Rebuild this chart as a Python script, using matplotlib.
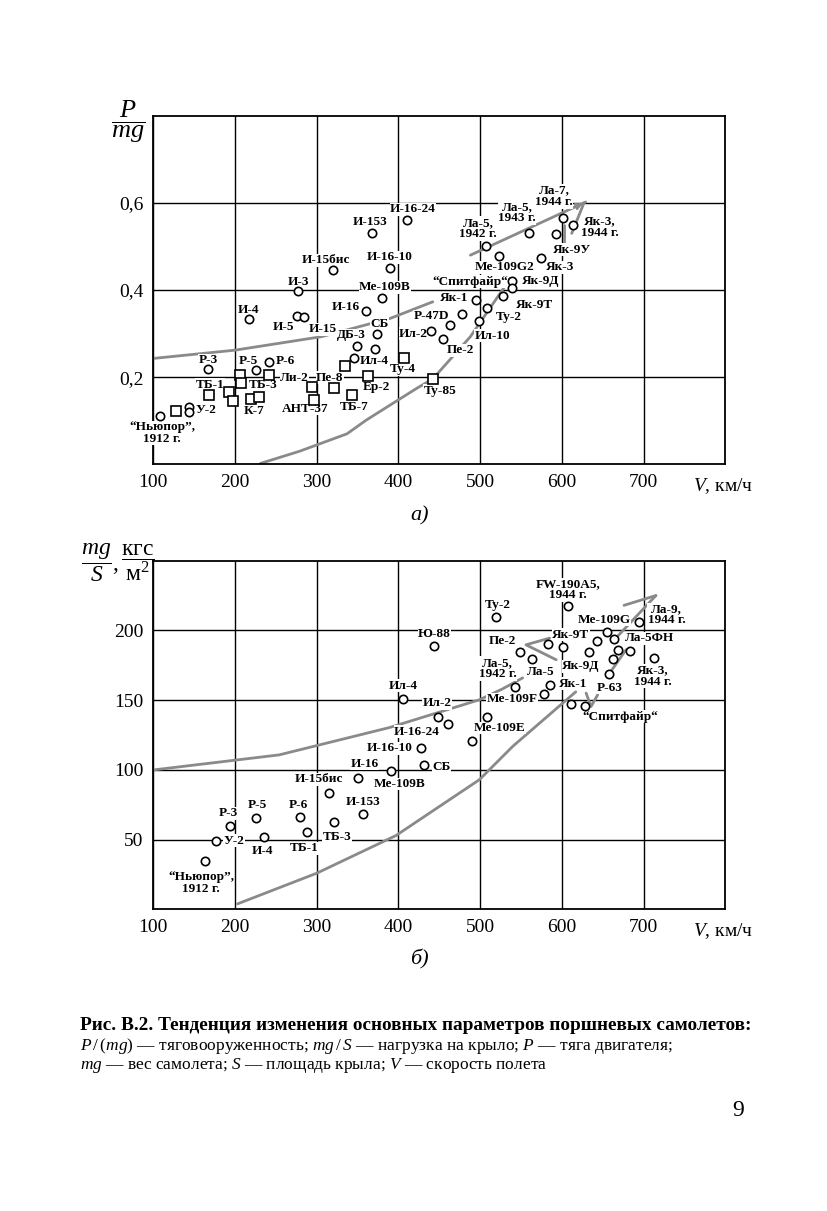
import numpy as np
import matplotlib
matplotlib.use("Agg")
import matplotlib.pyplot as plt

plt.rcParams['font.family'] = ['Liberation Serif', 'DejaVu Serif']
plt.rcParams['mathtext.fontset'] = 'custom'
plt.rcParams['mathtext.rm'] = 'Liberation Serif'
plt.rcParams['mathtext.it'] = 'Liberation Serif:italic'
plt.rcParams['mathtext.bf'] = 'Liberation Serif:bold'

# ---- (a) thrust-to-weight P/(mg) vs speed V, km/h ----
top_circ_v = [108.6, 144, 144, 167, 225.3, 242, 217, 276, 284.8, 277.5, 320.3,
              367.3, 410.2, 389.7, 380.3, 360.3, 373.4, 349, 371.4, 345.6,
              478.2, 463.5, 439.5, 454.2, 498.7, 508, 494.6, 538.7, 538.7,
              527.7, 523.5, 574.2, 507.2, 560.2, 600.9, 613.1, 592.3]
top_circ_pw = [0.111, 0.132, 0.121, 0.219, 0.217, 0.235, 0.333, 0.340, 0.338,
               0.397, 0.447, 0.532, 0.560, 0.450, 0.381, 0.352, 0.298, 0.272,
               0.264, 0.245, 0.345, 0.319, 0.306, 0.287, 0.329, 0.358, 0.377,
               0.420, 0.404, 0.386, 0.478, 0.474, 0.501, 0.531, 0.566, 0.550,
               0.528]
# bombers (squares)
top_sq_v = [127.8, 168.5, 192.7, 197.2, 206.5, 207.3, 241.6, 220, 229.4, 294.2,
            296.3, 320.8, 335, 363.2, 343.6, 407.2, 442.3]
top_sq_pw = [0.122, 0.160, 0.165, 0.146, 0.204, 0.186, 0.204, 0.150, 0.155,
             0.177, 0.148, 0.175, 0.225, 0.202, 0.159, 0.244, 0.196]

top_names = ["“Ньюпор”,\n1912 г.", "У-2", "Р-3", "ТБ-1", "И-4", "Р-5", "Р-6",
             "ТБ-3", "К-7", "И-5", "И-15", "И-3", "И-15бис", "И-153",
             "И-16-24", "И-16-10", "Me-109B", "И-16", "СБ", "ДБ-3", "Ил-4",
             "Ли-2", "Пе-8", "АНТ-37", "ТБ-7", "Ер-2", "Ту-4", "Ту-85", "Ил-2",
             "P-47D", "Пе-2", "Ил-10", "Ту-2", "Як-1", "Як-9Т", "Як-9Д",
             "“Спитфайр“", "Me-109G2", "Як-3", "Як-9У", "Як-3,\n1944 г.",
             "Ла-7,\n1944 г.", "Ла-5,\n1943 г.", "Ла-5,\n1942 г."]
top_name_v = [111, 164.5, 167, 169.5, 215.9, 215.9, 261.2, 234.3, 223.3, 258.8,
              307.1, 277.1, 311.4, 365.2, 417.9, 389.2, 383.6, 335.9, 376.9,
              342.6, 370.2, 273, 316, 285.8, 345.7, 372.6, 405, 450.9,
              418.5, 440.5, 475.4, 515.2, 534.7, 468.7, 566.6, 574, 487.6,
              529.3, 597.8, 611.9, 646.7, 590.5, 545.2, 497.4]
top_name_pw = [0.072, 0.125, 0.239, 0.183, 0.354, 0.238, 0.238, 0.182, 0.122,
               0.316, 0.310, 0.419, 0.468, 0.556, 0.585, 0.475, 0.406, 0.360,
               0.323, 0.297, 0.237, 0.199, 0.199, 0.127, 0.132, 0.177, 0.218,
               0.169, 0.300, 0.340, 0.262, 0.295, 0.337, 0.381, 0.365, 0.420,
               0.419, 0.452, 0.452, 0.493, 0.544, 0.615, 0.578, 0.541]

# trend lines (a)
top_trend1_v = [100, 200, 306, 390, 442]
top_trend1_pw = [0.243, 0.262, 0.293, 0.335, 0.373]
top_trend2_v = [231, 279, 337, 361, 422, 442, 488, 537]
top_trend2_pw = [0.002, 0.030, 0.070, 0.102, 0.174, 0.196, 0.293, 0.427]
top_trend3_v = [488, 629]
top_trend3_pw = [0.480, 0.602]
top_trend4_v = [602, 602]
top_trend4_pw = [0.503, 0.550]
top_trend5_v = [612, 627]
top_trend5_pw = [0.530, 0.600]

# ---- (б) wing loading mg/S, kgf/m^2 vs V ----
bot_circ_v = [163.3, 177, 193.9, 225.7, 235, 279.6, 288.1, 314.6, 321.2, 356.7,
              350.6, 390.9, 443.6, 406, 448.8, 460.2, 427.6, 431.7, 490.5, 508,
              519.5, 607.1, 549.2, 563.5, 542.7, 577.7, 585.9, 583.5, 601.8,
              633.6, 643.4, 654.8, 663.8, 693.9, 668.2, 683.4, 662.7, 658.1,
              712.8, 611.3, 628.8]
bot_circ_ws = [34.8, 49.4, 59.9, 65.6, 51.8, 66.4, 55.4, 83.4, 62.6, 68.5, 94.5,
               99.4, 188.5, 150.8, 138.3, 133.1, 115.4, 103.4, 120.4, 138.3,
               209.6, 217.7, 184.7, 179.2, 159.8, 154.8, 160.8, 190.5, 188.1,
               184.2, 192.4, 198.9, 194.0, 205.7, 186.2, 185.4, 179.7, 168.9,
               180.6, 147.4, 145.5]

bot_names = ["“Ньюпор”,\n1912 г.", "Р-3", "У-2", "Р-5", "И-4", "Р-6", "ТБ-1",
             "И-15бис", "ТБ-3", "И-153", "И-16", "Me-109B", "СБ", "И-16-10",
             "И-16-24", "Ил-2", "Ил-4", "Ю-88", "Me-109E", "Me-109F", "Ту-2",
             "Пе-2", "Ла-5,\n1942 г.", "Ла-5", "FW-190A5,\n1944 г.", "Як-9Т",
             "Як-9Д", "Як-1", "P-63", "“Спитфайр“", "Me-109G", "Ла-9,\n1944 г.",
             "Ла-5ФН", "Як-3,\n1944 г."]
bot_name_v = [158.4, 191.8, 199.1, 227.3, 233.4, 277.5, 284.8, 303.2, 324.6,
              356.4, 358.3, 401.1, 453.1, 389.5, 422.5, 447, 406, 443.9, 523.5,
              539.4, 521.7, 527.8, 521.5, 573.7, 607.1, 611, 623.2, 613.5,
              658.8, 671.6, 652, 728.3, 707.7, 711.2]
bot_name_ws = [19.0, 69.0, 49.4, 75.0, 42.2, 75.0, 43.9, 93.4, 52.2, 76.9,
               104.4, 90.0, 102.4, 115.6, 127.5, 147.9, 160.3, 197.6, 130.0,
               150.8, 218.4, 192.1, 172.7, 169.9, 229.2, 196.9, 174.2, 161.8,
               158.7, 138.3, 207.7, 211.3, 194.5, 167.3]

# trend lines (б)
bot_trend1_v = [100, 254, 389, 499, 527, 552]
bot_trend1_ws = [100, 110.8, 130.4, 150.3, 158, 166]
bot_trend2_v = [203, 300, 397, 425, 499, 540, 617]
bot_trend2_ws = [4, 26, 53, 64, 93, 117, 156]
bot_trend3_v = [593, 556, 585]
bot_trend3_ws = [179, 189.7, 194.5]
bot_trend4_v = [629.6, 635.7, 643.8]
bot_trend4_ws = [155.1, 145.5, 153.9]
bot_trend5_v = [658, 678.5]
bot_trend5_ws = [169, 186.2]
bot_trend6_v = [662, 715]
bot_trend6_ws = [192, 225]
bot_trend7_v = [676, 715]
bot_trend7_ws = [218, 225]

GRAY = "#8a8a8a"


def setup_axes(ax, yticks, ylabels, ylim):
    ax.set_xlim(100, 800)
    ax.set_ylim(*ylim)
    ax.set_xticks([100, 200, 300, 400, 500, 600, 700])
    ax.set_xticklabels(["100", "200", "300", "400", "500", "600", "700"])
    ax.set_yticks(yticks)
    ax.set_yticklabels(ylabels)
    ax.tick_params(length=0, labelsize=14, pad=7)
    ax.grid(True, color="k", lw=1.0)
    ax.set_axisbelow(True)
    for sp in ax.spines.values():
        sp.set_linewidth(1.3)
    ax.text(797, -0.035, "$V$, км/ч", transform=ax.get_xaxis_transform(),
            ha="center", va="top", fontsize=14)


def put_labels(ax, names, xs, ys):
    for name, x, y in zip(names, xs, ys):
        ax.text(x, y, name, ha="center", va="center", fontsize=9.5,
                fontweight="bold", linespacing=0.95, zorder=4,
                bbox=dict(facecolor="white", edgecolor="none", pad=0.3))


fig = plt.figure(figsize=(8.28, 12.11), dpi=100)

# ---- chart (a) ----
ax1 = fig.add_axes([0.1852, 0.6166, 0.6908, 0.2878])
setup_axes(ax1, [0.2, 0.4, 0.6], ["0,2", "0,4", "0,6"], (0, 0.8))
for tv, tp in [(top_trend1_v, top_trend1_pw), (top_trend2_v, top_trend2_pw),
               (top_trend3_v, top_trend3_pw), (top_trend4_v, top_trend4_pw),
               (top_trend5_v, top_trend5_pw)]:
    ax1.plot(tv, tp, color=GRAY, lw=2.0, zorder=2, solid_capstyle="round")
ax1.annotate("", xy=(629, 0.602), xytext=(612, 0.587),
             arrowprops=dict(arrowstyle="-|>", color=GRAY, lw=1.5,
                             mutation_scale=10), zorder=2)
put_labels(ax1, top_names, top_name_v, top_name_pw)
ax1.plot(top_circ_v, top_circ_pw, "o", ms=6, mfc="white", mec="k", mew=1.2,
         zorder=6, clip_on=False)
ax1.plot(top_sq_v, top_sq_pw, "s", ms=6.5, mfc="white", mec="k", mew=1.2,
         zorder=6, clip_on=False)
fig.text(0.1546, 0.899, r"$\dfrac{P}{mg}$", ha="center", va="center",
         fontsize=19)
fig.text(0.507, 0.574, "а)", ha="center", va="center", fontsize=16,
         style="italic")

# ---- chart (б) ----
ax2 = fig.add_axes([0.1852, 0.2490, 0.6908, 0.2880])
setup_axes(ax2, [50, 100, 150, 200], ["50", "100", "150", "200"], (0, 250))
for tv, tw in [(bot_trend1_v, bot_trend1_ws), (bot_trend2_v, bot_trend2_ws),
               (bot_trend3_v, bot_trend3_ws), (bot_trend4_v, bot_trend4_ws),
               (bot_trend5_v, bot_trend5_ws), (bot_trend6_v, bot_trend6_ws),
               (bot_trend7_v, bot_trend7_ws)]:
    ax2.plot(tv, tw, color=GRAY, lw=2.0, zorder=2, solid_capstyle="round")
put_labels(ax2, bot_names, bot_name_v, bot_name_ws)
ax2.plot(bot_circ_v, bot_circ_ws, "o", ms=6, mfc="white", mec="k", mew=1.2,
         zorder=6, clip_on=False)
fig.text(0.121, 0.535, r"$\dfrac{mg}{S}$,", ha="center", va="center",
         fontsize=17)
fig.text(0.167, 0.535, r"$\dfrac{\mathrm{кгс}}{\mathrm{м}^2}$", ha="center",
         va="center", fontsize=17)
fig.text(0.507, 0.2073, "б)", ha="center", va="center", fontsize=16,
         style="italic")

# ---- caption ----
fig.text(0.0966, 1 - 1030 / 1211,
         "Рис. В.2. Тенденция изменения основных параметров поршневых самолетов:",
         ha="left", va="baseline", fontsize=13.9, fontweight="bold")
fig.text(0.0966, 1 - 1050 / 1211,
         "$P\\,/\\,(mg)$ — тяговооруженность; $mg\\,/\\,S$ — нагрузка на крыло; "
         "$P$ — тяга двигателя;", ha="left", va="baseline", fontsize=12.5)
fig.text(0.0966, 1 - 1069 / 1211,
         "$mg$ — вес самолета; $S$ — площадь крыла; $V$ — скорость полета",
         ha="left", va="baseline", fontsize=12.5)
fig.text(738 / 828, 1 - 1110 / 1211, "9", ha="center", va="center",
         fontsize=17)

fig.savefig("out.png", dpi=100, facecolor="white")
